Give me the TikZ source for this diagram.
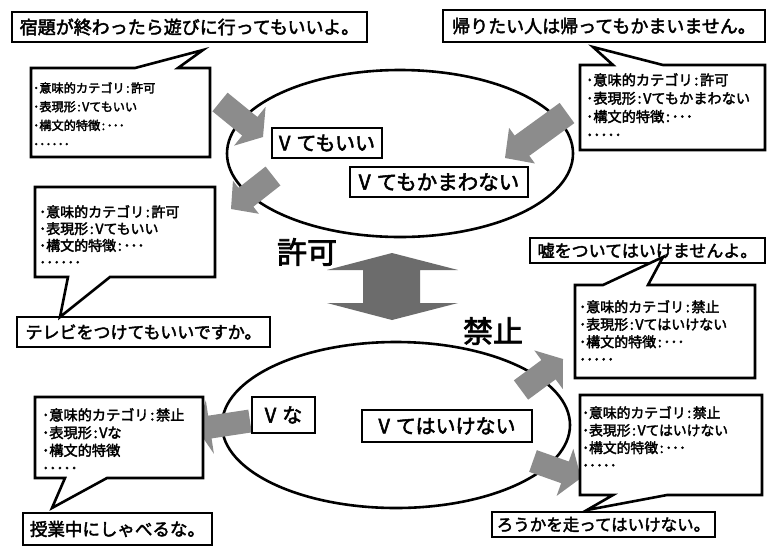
\documentclass[tikz,border=0pt]{standalone}
\usepackage{fontspec}
\setmainfont{Noto Sans CJK JP}[FakeBold=2.5]
\newfontfamily\cfont{Noto Sans CJK JP}[FakeBold=2.5]
\usetikzlibrary{calc}
\definecolor{arrowgray}{RGB}{140,140,140}
\definecolor{bigarrowgray}{RGB}{108,108,108}
\newcommand\fsz[2]{\fontsize{#1}{#2}\selectfont}
\newcommand\co{\hspace{.12em}:\hspace{.12em}}
\tikzset{
  ring/.style={draw, line width=2.6pt},
  sbox/.style={draw, line width=2.6pt, fill=white, inner sep=0pt, align=center},
  callout/.style={draw, line width=2.6pt, fill=white, line join=miter},
  ctext/.style={anchor=north west, inner sep=0pt, align=left},
  biglabel/.style={inner sep=0pt, font=\fsz{30}{30}},
}
\newcommand\blockarr[6]{%
  \coordinate (bt) at #1; \coordinate (bp) at #2;
  \coordinate (bh) at ($(bp)!#5!(bt)$);
  \fill[#6] ($(bt)!#3!90:(bp)$) -- ($(bh)!#3!-90:(bt)$) -- ($(bh)!#4!-90:(bt)$) -- (bp)
    -- ($(bh)!#4!90:(bt)$) -- ($(bh)!#3!90:(bt)$) -- ($(bt)!#3!-90:(bp)$) -- cycle;}
\begin{document}
\begin{tikzpicture}[x=1pt,y=1pt]
\useasboundingbox[fill=white] (0,0) rectangle (768,-547);
% ellipses
\coordinate (ctop) at (400,-153.5);
\coordinate (cbot) at (396,-425);
\draw[ring] (ctop) ellipse [x radius=173, y radius=83.5];
\draw[ring] (cbot) ellipse [x radius=174, y radius=83];
% block arrows
\blockarr{(220,-102)}{(263,-137)}{12pt}{25pt}{17pt}{arrowgray}
\blockarr{(273,-176)}{(231,-209)}{12pt}{21pt}{19pt}{arrowgray}
\blockarr{(567,-113)}{(505,-158)}{12.5pt}{22pt}{21pt}{arrowgray}
\blockarr{(250,-421)}{(197,-429)}{11.5pt}{27pt}{13pt}{arrowgray}
\blockarr{(521,-390)}{(563,-359)}{12pt}{24pt}{18pt}{arrowgray}
\blockarr{(533,-461)}{(581,-478)}{11.5pt}{25pt}{17pt}{arrowgray}
% double arrow
\fill[bigarrowgray] (392,-253) -- (458,-270) -- (420,-270) -- (420,-303) -- (458,-303)
  -- (392,-320) -- (327,-303) -- (363,-303) -- (363,-270) -- (327,-270) -- cycle;
\node[biglabel] (kyoka) at (307,-252) {許可};
\node[biglabel] (kinshi) at (493,-331) {禁止};
% boxes inside ellipses
\node[sbox, minimum width=110, minimum height=30, font=\fsz{20}{20}] (e1) at (327,-143) {V\hspace{.3em}てもいい};
\node[sbox, minimum width=178, minimum height=30, font=\fsz{20.5}{20.5}] (e2) at (439,-182) {V\hspace{.3em}てもかまわない};
\node[sbox, minimum width=63, minimum height=36, font=\fsz{20}{20}] (e3) at (283.5,-415) {V\hspace{.3em}な};
\node[sbox, minimum width=170, minimum height=32, font=\fsz{20}{20}] (e4) at (447,-426) {V\hspace{.3em}てはいけない};
% sentence boxes
\node[sbox, minimum width=355, minimum height=30, font=\fsz{18}{18}] (s1) at (189.5,-27) {宿題が終わったら遊びに行ってもいいよ。};
\node[sbox, minimum width=322, minimum height=32, font=\fsz{18}{18}] (s2) at (604,-26) {帰りたい人は帰ってもかまいません。};
\node[sbox, minimum width=253, minimum height=30, font=\fsz{17}{17}] (s3) at (143.5,-332) {テレビをつけてもいいですか。};
\node[sbox, minimum width=235, minimum height=25, font=\fsz{17}{17}] (s4) at (647.5,-250.5) {嘘をついてはいけませんよ。};
\node[sbox, minimum width=189, minimum height=32, font=\fsz{17.5}{17.5}] (s5) at (117.5,-529) {授業中にしゃべるな。};
\node[sbox, minimum width=223, minimum height=25, font=\fsz{16.5}{16.5}] (s6) at (603.5,-524.5) {ろうかを走ってはいけない。};
% callouts
\draw[callout] (31,-68) -- (135,-68) -- (203,-50) -- (178,-68) -- (210,-68) -- (210,-157) -- (31,-157) -- cycle;
\node[ctext, font=\cfont\fsz{12.2}{18.7}] (c1) at (33,-82)
  {･意味的カテゴリ\co 許可\\･表現形\co Vてもいい\\･構文的特徴\co ･･･\\･･････};
\draw[callout] (580,-65) -- (613,-65) -- (593,-47) -- (663,-65) -- (765,-65) -- (765,-150) -- (580,-150) -- cycle;
\node[ctext, font=\cfont\fsz{14.2}{18.3}] (c2) at (586,-73)
  {･意味的カテゴリ\co 許可\\･表現形\co Vてもかまわない\\･構文的特徴\co ･･･\\･････};
\draw[callout] (35,-187) -- (215,-187) -- (215,-277) -- (110,-277) -- (60,-317) -- (68,-277) -- (35,-277) -- cycle;
\node[ctext, font=\cfont\fsz{14}{16.8}] (c3) at (39,-205)
  {･意味的カテゴリ\co 許可\\･表現形\co Vてもいい\\･構文的特徴\co ･･･\\･･････};
\draw[callout] (575,-285) -- (603,-285) -- (663,-257) -- (648,-285) -- (755,-285) -- (755,-378) -- (575,-378) -- cycle;
\node[ctext, font=\cfont\fsz{14}{17.5}] (c4) at (579,-300)
  {･意味的カテゴリ\co 禁止\\･表現形\co Vてはいけない\\･構文的特徴\co ･･･\\･････};
\draw[callout] (35,-397) -- (203,-397) -- (203,-478) -- (107,-478) -- (52,-508) -- (65,-478) -- (35,-478) -- cycle;
\node[ctext, font=\cfont\fsz{14.2}{17.7}] (c5) at (42,-408)
  {･意味的カテゴリ\co 禁止\\･表現形\co Vな\\･構文的特徴\\･････};
\draw[callout] (580,-395) -- (762,-395) -- (762,-495) -- (667,-495) -- (587,-510) -- (613,-495) -- (580,-495) -- cycle;
\node[ctext, font=\cfont\fsz{13.8}{17.5}] (c6) at (582,-406)
  {･意味的カテゴリ\co 禁止\\･表現形\co Vてはいけない\\･構文的特徴\co ･･･\\･････};
\end{tikzpicture}
\end{document}
